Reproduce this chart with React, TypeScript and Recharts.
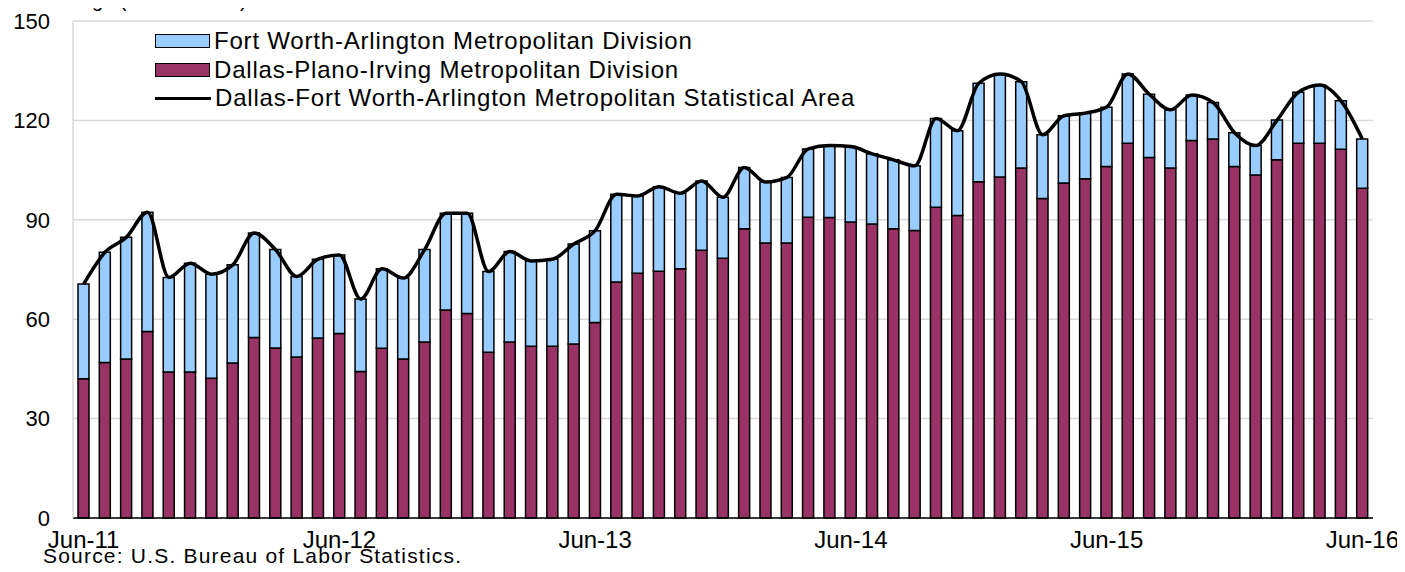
import { ComposedChart, Bar, Line, XAxis, YAxis, CartesianGrid, Legend } from 'recharts';

const months = [
  'Jun-11', 'Jul-11', 'Aug-11', 'Sep-11', 'Oct-11', 'Nov-11', 'Dec-11', 'Jan-12', 'Feb-12', 'Mar-12', 'Apr-12', 'May-12',
  'Jun-12', 'Jul-12', 'Aug-12', 'Sep-12', 'Oct-12', 'Nov-12', 'Dec-12', 'Jan-13', 'Feb-13', 'Mar-13', 'Apr-13', 'May-13',
  'Jun-13', 'Jul-13', 'Aug-13', 'Sep-13', 'Oct-13', 'Nov-13', 'Dec-13', 'Jan-14', 'Feb-14', 'Mar-14', 'Apr-14', 'May-14',
  'Jun-14', 'Jul-14', 'Aug-14', 'Sep-14', 'Oct-14', 'Nov-14', 'Dec-14', 'Jan-15', 'Feb-15', 'Mar-15', 'Apr-15', 'May-15',
  'Jun-15', 'Jul-15', 'Aug-15', 'Sep-15', 'Oct-15', 'Nov-15', 'Dec-15', 'Jan-16', 'Feb-16', 'Mar-16', 'Apr-16', 'May-16',
  'Jun-16',
];

// net change, thousands
const dallasPlanoIrving = [
  42.0, 46.9, 48.0, 56.3, 44.1, 44.1, 42.2, 46.8, 54.5, 51.3, 48.6, 54.3,
  55.7, 44.2, 51.2, 48.0, 53.1, 62.8, 61.7, 50.0, 53.1, 51.8, 51.8, 52.5,
  59.0, 71.2, 73.9, 74.5, 75.2, 80.8, 78.4, 87.3, 83.0, 83.0, 90.8, 90.7,
  89.3, 88.7, 87.3, 86.8, 93.8, 91.3, 101.5, 102.9, 105.6, 96.4, 101.1, 102.4,
  106.1, 113.1, 108.8, 105.6, 113.9, 114.4, 106.1, 103.5, 108.1, 113.1, 113.1, 111.3,
  99.5,
];

const fortWorthArlington = [
  28.6, 33.3, 36.7, 36.0, 28.5, 32.8, 31.4, 29.6, 31.5, 29.7, 24.3, 23.8,
  23.7, 21.9, 24.0, 24.4, 27.9, 29.2, 30.3, 24.4, 27.3, 25.8, 26.3, 30.2,
  27.7, 26.5, 23.3, 25.5, 22.8, 20.9, 18.4, 18.5, 18.4, 19.8, 20.6, 21.7,
  22.8, 21.2, 20.8, 19.5, 26.8, 25.6, 29.7, 31.1, 26.1, 19.3, 20.3, 19.8,
  17.9, 20.9, 19.1, 17.6, 13.8, 11.0, 10.2, 8.9, 12.0, 15.4, 17.6, 14.6,
  14.9,
];

const dfwMsa = [
  70.6, 80.2, 84.7, 92.3, 72.6, 76.9, 73.6, 76.4, 86.0, 81.0, 72.9, 78.1,
  79.4, 66.1, 75.2, 72.4, 81.0, 92.0, 92.0, 74.4, 80.4, 77.6, 78.1, 82.7,
  86.7, 97.7, 97.2, 100.0, 98.0, 101.7, 96.8, 105.8, 101.4, 102.8, 111.4, 112.4,
  112.1, 109.9, 108.1, 106.3, 120.6, 116.9, 131.2, 134.0, 131.7, 115.7, 121.4, 122.2,
  124.0, 134.0, 127.9, 123.2, 127.7, 125.4, 116.3, 112.4, 120.1, 128.5, 130.7, 125.9,
  114.4,
];

const yTicks = [0, 30, 60, 90, 120, 150];

const data = months.map((m, i) => ({
  month: m,
  dallas: dallasPlanoIrving[i],
  fortWorth: fortWorthArlington[i],
  msa: dfwMsa[i],
}));

const FONT = '"Liberation Sans", Arial, sans-serif';

function LegendBox() {
  const rows = [
    { label: 'Fort Worth-Arlington Metropolitan Division', kind: 'box', color: '#99ccff' },
    { label: 'Dallas-Plano-Irving Metropolitan Division', kind: 'box', color: '#993366' },
    { label: 'Dallas-Fort Worth-Arlington Metropolitan Statistical Area', kind: 'line', color: '#000' },
  ];
  return (
    <div style={{ fontFamily: FONT, fontSize: 24, letterSpacing: 0.8, color: '#000' }}>
      {rows.map((r) => (
        <div key={r.label} style={{ display: 'flex', alignItems: 'center', height: 28.5 }}>
          {r.kind === 'box' ? (
            <span style={{ width: 53, height: 12, background: r.color, border: '1.5px solid #000', marginRight: 4 }} />
          ) : (
            <span style={{ width: 56, height: 3, background: '#000', marginRight: 4 }} />
          )}
          <span style={{ whiteSpace: 'nowrap' }}>{r.label}</span>
        </div>
      ))}
    </div>
  );
}

export default function App() {
  return (
    <div style={{ position: 'relative', width: 1405, height: 572, margin: -8, background: '#fff' }}>
      <div
        style={{
          position: 'absolute', left: 12, top: -10, fontFamily: FONT, fontSize: 20,
          lineHeight: '20px', whiteSpace: 'nowrap',
        }}
      >
        Net change (in thousands)
      </div>
      <ComposedChart
        width={1405}
        height={572}
        data={data}
        margin={{ top: 21, right: 32, bottom: 24, left: 0 }}
        barCategoryGap={0}
      >
        <CartesianGrid vertical={false} stroke="#d9d9d9" strokeWidth={1.5} />
        <XAxis
          dataKey="month"
          interval={11}
          tickLine={false}
          tickSize={0}
          tickMargin={13}
          height={30}
          axisLine={{ stroke: '#000', strokeWidth: 1.5 }}
          tick={{ fill: '#000', fontSize: 24, fontFamily: FONT }}
        />
        <YAxis
          domain={[0, 150]}
          ticks={yTicks}
          width={73}
          tickLine={false}
          tickSize={0}
          tickMargin={23}
          axisLine={{ stroke: '#d9d9d9', strokeWidth: 1.5 }}
          tick={{ fill: '#000', fontSize: 22, fontFamily: FONT }}
        />
        <YAxis
          yAxisId="right"
          orientation="right"
          domain={[0, 150]}
          width={0}
          tick={false}
          tickLine={false}
          axisLine={{ stroke: '#d9d9d9', strokeWidth: 1.5 }}
        />
        <Legend
          layout="vertical"
          align="center"
          verticalAlign="middle"
          wrapperStyle={{ top: 27, left: 155, width: 'auto' }}
          content={() => <LegendBox />}
        />
        <Bar dataKey="dallas" stackId="a" barSize={11} fill="#993366" stroke="#000" strokeWidth={1.5} isAnimationActive={false} />
        <Bar dataKey="fortWorth" stackId="a" barSize={11} fill="#99ccff" stroke="#000" strokeWidth={1.5} isAnimationActive={false} />
        <Line
          dataKey="msa"
          type="monotone"
          stroke="#000"
          strokeWidth={3.5}
          dot={false}
          isAnimationActive={false}
        />
      </ComposedChart>
      <div
        style={{
          position: 'absolute', left: 43, top: 545, fontFamily: FONT, fontSize: 21,
          letterSpacing: 1.2, lineHeight: '21px', whiteSpace: 'nowrap',
        }}
      >
        Source: U.S. Bureau of Labor Statistics.
      </div>
    </div>
  );
}
